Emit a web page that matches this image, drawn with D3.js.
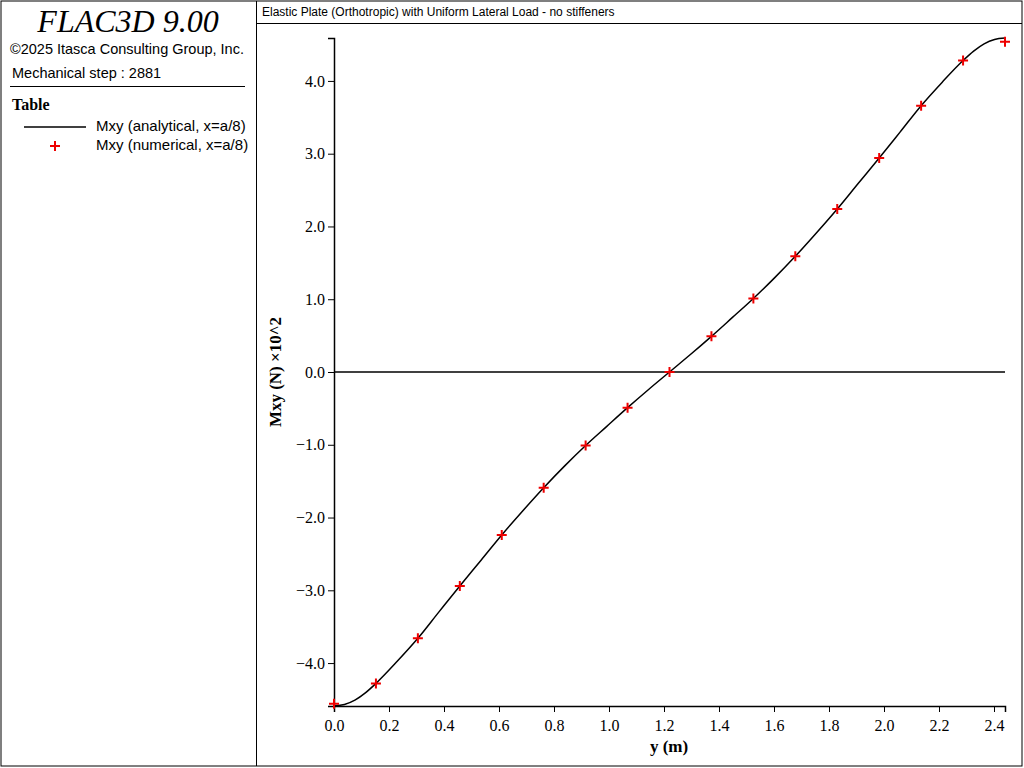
<!DOCTYPE html><html><head><meta charset="utf-8">
<script src="https://cdn.jsdelivr.net/npm/d3@7"></script>
<style>body{margin:0;background:#fff}svg{display:block}</style></head><body>
<svg id="c" width="1024" height="768"></svg>
<script>
const numX=[0,0.1525,0.305,0.4575,0.61,0.7625,0.915,1.0675,1.22,1.3725,1.525,1.6775,1.83,1.9825,2.135,2.2875,2.44];
const numY=[-4.56,-4.28,-3.66,-2.94,-2.24,-1.59,-1.01,-0.49,0.0,0.49,1.01,1.59,2.24,2.94,3.66,4.28,4.54];
const anaX=[0,0.038,0.076,0.114,0.1525,0.229,0.305,0.381,0.4575,0.534,0.61,0.686,0.7625,0.839,0.915,0.991,1.0675,1.144,1.22,1.296,1.3725,1.449,1.525,1.601,1.6775,1.754,1.83,1.906,1.9825,2.059,2.135,2.211,2.2875,2.326,2.364,2.402,2.44];
const anaY=[-4.59,-4.57,-4.51,-4.41,-4.28,-3.98,-3.66,-3.30,-2.94,-2.59,-2.24,-1.91,-1.59,-1.29,-1.01,-0.75,-0.49,-0.24,0.0,0.24,0.49,0.75,1.01,1.29,1.59,1.91,2.24,2.59,2.94,3.30,3.66,3.98,4.28,4.41,4.51,4.57,4.59];
const xTicks=[0,0.2,0.4,0.6,0.8,1.0,1.2,1.4,1.6,1.8,2.0,2.2,2.4];
const yTicks=[-4,-3,-2,-1,0,1,2,3,4];
const svg=d3.select("#c");
svg.append("rect").attr("x",1).attr("y",1).attr("width",1021).attr("height",765).attr("fill","none").attr("stroke","#000");
svg.append("line").attr("x1",256.5).attr("x2",256.5).attr("y1",1).attr("y2",766).attr("stroke","#000");
svg.append("line").attr("x1",257).attr("x2",1022).attr("y1",23.5).attr("y2",23.5).attr("stroke","#000");
svg.append("text").attr("x",262).attr("y",16).attr("font-family","Liberation Sans").attr("font-size",12).text("Elastic Plate (Orthotropic) with Uniform Lateral Load - no stiffeners");
svg.append("text").attr("x",128).attr("y",32).attr("text-anchor","middle").attr("font-family","Liberation Serif").attr("font-style","italic").attr("font-size",32).text("FLAC3D 9.00");
svg.append("text").attr("x",10).attr("y",54).attr("font-family","Liberation Sans").attr("font-size",14.5).text("©2025 Itasca Consulting Group, Inc.");
svg.append("text").attr("x",12).attr("y",78).attr("font-family","Liberation Sans").attr("font-size",14.5).text("Mechanical step : 2881");
svg.append("line").attr("x1",10).attr("x2",245).attr("y1",86.5).attr("y2",86.5).attr("stroke","#000");
svg.append("text").attr("x",12).attr("y",110).attr("font-family","Liberation Serif").attr("font-weight","bold").attr("font-size",16).text("Table");
svg.append("line").attr("x1",24).attr("x2",86).attr("y1",127).attr("y2",127).attr("stroke","#000").attr("stroke-width",1.5);
svg.append("text").attr("x",96).attr("y",131).attr("font-family","Liberation Sans").attr("font-size",15).text("Mxy (analytical, x=a/8)");
svg.append("text").attr("x",96).attr("y",150).attr("font-family","Liberation Sans").attr("font-size",15).text("Mxy (numerical, x=a/8)");
const plus=(g,cx,cy)=>g.append("path").attr("d",`M${cx-5},${cy}H${cx+5}M${cx},${cy-5}V${cy+5}`).attr("stroke","#e00").attr("stroke-width",2);
plus(svg,55,146);
const x=d3.scaleLinear().domain([0,2.44]).range([334,1005]);
const y=d3.scaleLinear().domain([-4.59,4.59]).range([706,38]);
const xa=svg.append("g").attr("transform","translate(0,706)").call(d3.axisBottom(x).tickValues(xTicks).tickFormat(d3.format(".1f")).tickSizeOuter(0).tickSize(6));
const ya=svg.append("g").attr("transform","translate(334,0)").call(d3.axisLeft(y).tickValues(yTicks).tickFormat(d3.format(".1f")).tickSizeOuter(0).tickSize(6));
[xa,ya].forEach(a=>{a.selectAll("text").attr("font-family","Liberation Serif").attr("font-size",16).attr("fill","#000");a.select(".domain").attr("stroke-width",1.5);});
xa.selectAll("text").attr("dy","1em");
svg.append("line").attr("x1",334).attr("x2",1005).attr("y1",y(0)).attr("y2",y(0)).attr("stroke","#000").attr("stroke-width",1.5);
svg.append("text").attr("x",669).attr("y",752).attr("text-anchor","middle").attr("font-family","Liberation Serif").attr("font-weight","bold").attr("font-size",17).text("y (m)");
svg.append("text").attr("transform","translate(281,372) rotate(-90)").attr("text-anchor","middle").attr("font-family","Liberation Serif").attr("font-weight","bold").attr("font-size",17).text("Mxy (N) ×10^2");
const line=d3.line().x((d,i)=>x(anaX[i])).y(d=>y(d)).curve(d3.curveMonotoneX);
svg.append("path").attr("d",line(anaY)).attr("fill","none").attr("stroke","#000").attr("stroke-width",1.5);
const pg=svg.append("g");
numX.forEach((v,i)=>plus(pg,x(v),y(numY[i])));
</script></body></html>
